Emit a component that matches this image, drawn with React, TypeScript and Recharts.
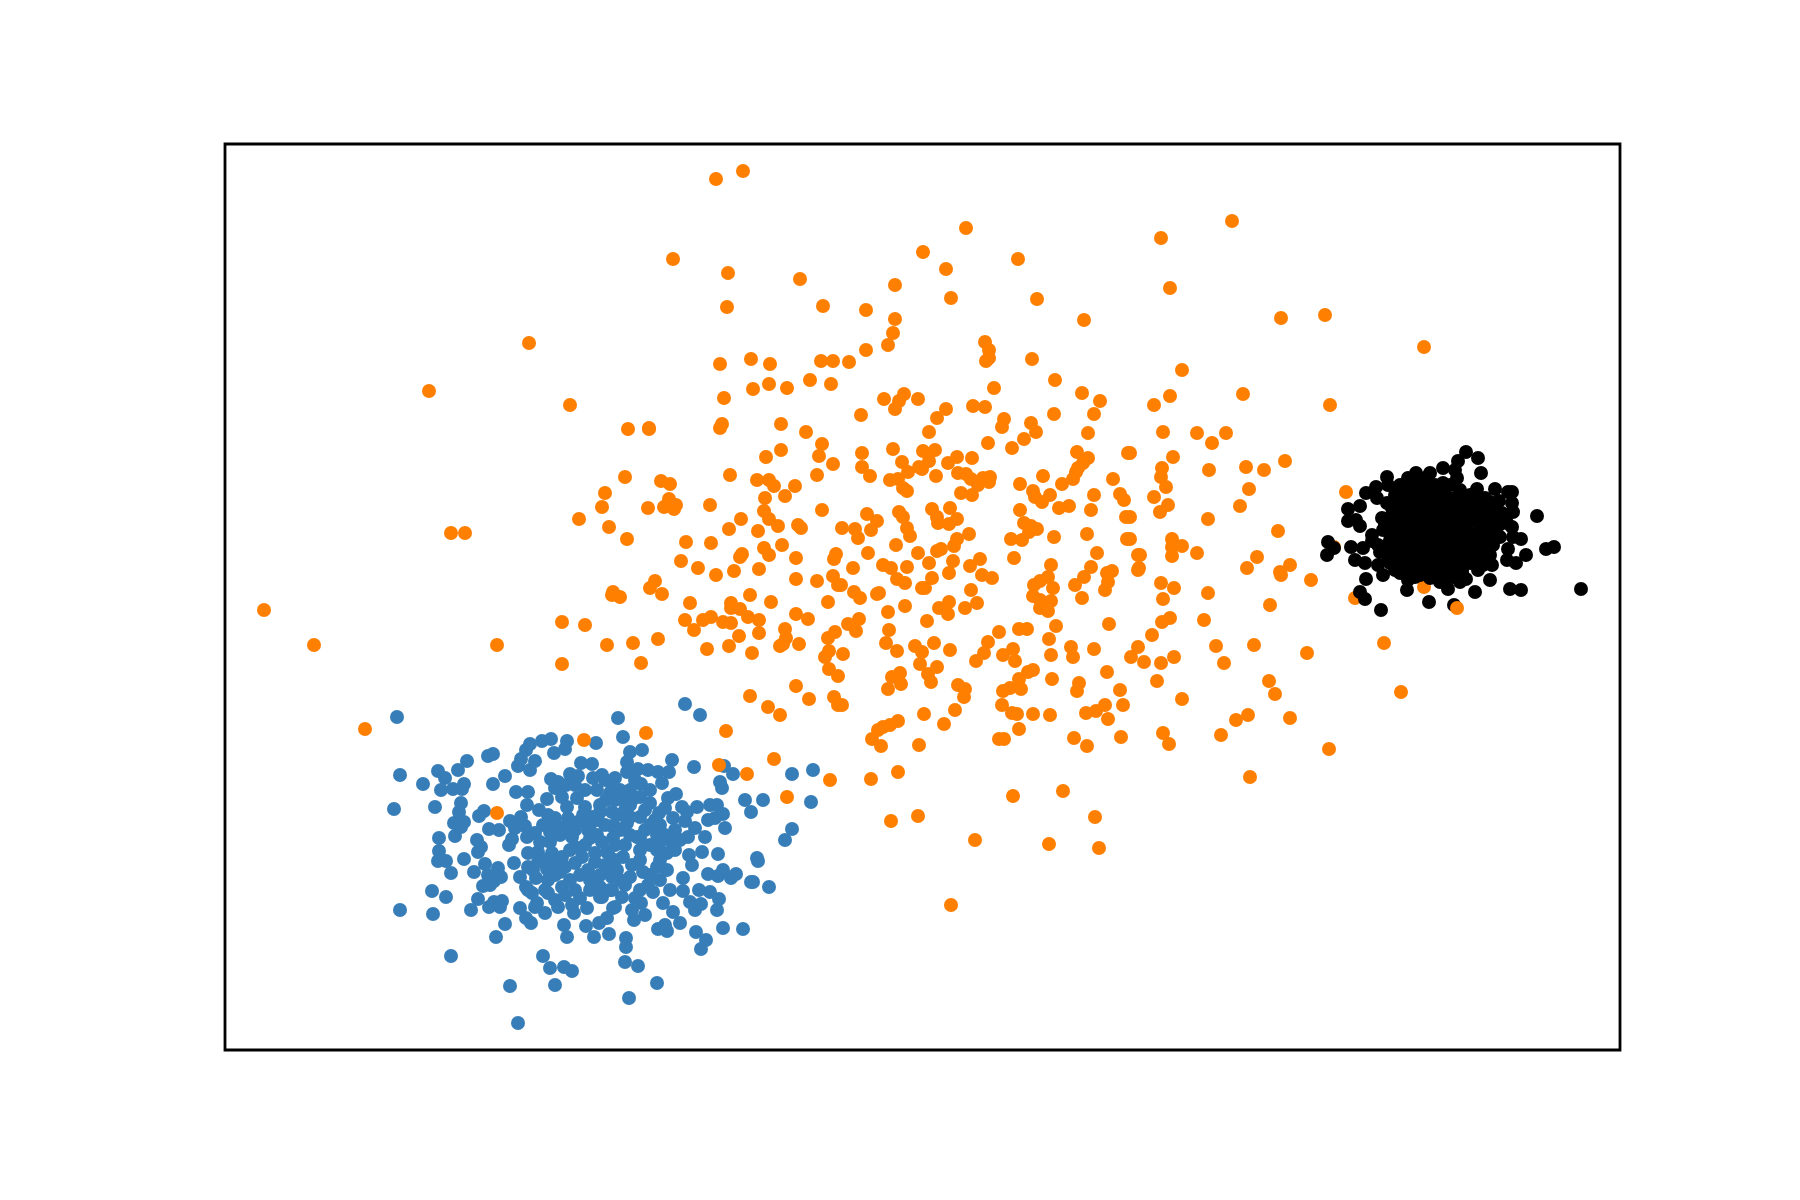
import { ScatterChart, Scatter, XAxis, YAxis, ReferenceArea } from "recharts";

// values, no ticks there so the scale is arbitrary
const xDomain = [225, 1620];
const yDomain = [144, 1050];

const bluePoints = [
  [397,717],[400,775],[423,784],[394,809],[435,807],[438,771],[445,778],[458,770],[467,761],[441,790],[453,789],[462,789],[464,784],
  [461,803],[459,812],[464,822],[454,823],[461,827],[455,836],[439,838],[439,851],[438,861],[446,861],[451,873],[464,859],[432,891],
  [446,897],[400,910],[433,914],[471,910],[478,899],[496,937],[505,924],[451,956],[510,986],[518,1023],[543,956],[550,968],[564,967],
  [572,971],[555,985],[488,756],[493,754],[493,784],[505,776],[518,766],[521,759],[526,750],[530,744],[530,770],[535,761],[542,741],
  [551,739],[554,753],[565,749],[567,741],[596,743],[516,792],[528,792],[527,805],[547,799],[479,816],[484,811],[489,829],[499,830],
  [510,821],[521,817],[525,826],[515,828],[512,839],[509,845],[477,840],[481,847],[478,852],[485,864],[474,872],[498,868],[488,875],
  [501,877],[483,886],[490,885],[494,881],[489,907],[494,902],[502,901],[500,907],[514,863],[520,877],[528,867],[526,887],[532,893],
  [520,908],[526,918],[531,923],[564,925],[567,937],[586,926],[594,937],[599,923],[609,934],[607,918],
  [551,779],[558,782],[555,788],[570,774],[581,763],[592,764],[602,775],[578,776],[593,778],[566,785],[562,797],[577,798],[567,807],
  [585,807],[597,790],[610,793],[539,810],[548,815],[555,818],[553,828],[535,833],[527,837],[528,853],[538,852],[550,842],[565,827],
  [578,822],[592,817],[598,820],[612,812],[612,826],[588,830],[572,837],[575,847],[552,853],[562,857],[575,863],[588,870],[595,853],
  [608,853],[602,842],[547,869],[536,878],[548,880],[562,887],[575,890],[590,890],[602,897],[612,890],[528,890],[545,890],[555,900],
  [537,903],[545,913],[558,907],[572,905],[574,913],[587,908],[612,877],[615,907],[565,867],[582,857],[548,893],[535,907],
  [618,718],[623,737],[685,704],[700,715],[630,752],[642,750],[627,762],[627,772],[638,769],[648,770],[658,772],[669,772],[672,760],
  [694,767],[662,783],[641,784],[724,766],[733,774],[720,782],[722,788],[745,800],[763,800],[751,812],[792,774],[813,770],[811,802],
  [792,829],[785,840],[757,858],[758,861],[718,854],[753,882],[751,882],[769,887],[743,929],[723,928],[696,932],[706,940],[701,949],
  [680,923],[665,925],[658,929],[667,931],[717,910],[719,899],[710,892],[699,890],[695,910],[690,902],[701,904],[683,878],[683,891],
  [673,912],[663,903],[645,915],[634,920],[632,910],[641,903],[626,938],[626,947],[625,962],[638,966],[657,983],[629,998],[613,908],
  [622,897],[708,874],[718,876],[723,870],[731,878],[736,874],[702,852],[689,855],[692,865],[725,828],[710,805],[717,805],[723,814],
  [708,820],[715,818],[697,807],[682,807],[687,812],[676,794],[668,798],[673,818],[685,821],[675,830],[672,842],[695,828],[688,837],
  [705,837],[659,813],[650,803],[640,797],[620,790],[630,817],[640,817],[614,826],[657,835],[650,825],[637,837],[613,838],[607,852],
  [623,857],[640,850],[657,850],[667,853],[617,870],[630,877],[600,887],[643,872],[657,867],[667,870],[640,890],[653,892],[670,890],
  [610,890],[627,823],[623,800],[612,790],
  [556,825],[560,835],[568,818],[575,830],[583,815],[590,825],[597,835],[605,825],[600,805],[606,800],[615,800],[625,810],[632,800],
  [645,810],[655,820],[665,808],[620,830],[630,835],[645,830],[660,842],[650,845],[640,860],[625,845],[615,860],[605,865],[595,862],
  [585,845],[580,875],[570,880],[560,872],[555,862],[545,860],[540,842],[600,875],[610,868],[620,880],[632,865],[650,875],[660,880],
  [648,885],[635,898],[625,885],[590,880],[600,897],[565,895],[580,898],[555,875],[615,845],[590,838],[570,850],[600,812],[635,780],
  [650,790],[630,790],[605,780],[615,778],[585,790],[575,785],[675,850],[680,840],[660,860],[640,838],[550,832],[543,825],[538,862],
  [533,870],[660,825],[665,835],[630,805],[617,815],
];

const orangePoints = [
  [716,179],[743,171],[673,259],[728,273],[800,279],[923,252],[895,285],[727,307],[823,306],[866,310],[895,319],[893,333],[888,345],
  [866,350],[720,364],[751,359],[770,364],[821,361],[833,361],[849,362],[810,380],[831,384],[753,389],[769,384],[787,388],[724,398],
  [884,399],[904,394],[899,401],[895,409],[918,399],[861,415],[781,424],[722,424],[720,428],[649,428],[937,418],[929,432],[806,432],
  [966,228],[946,269],[1018,259],[1161,238],[1232,221],[1170,288],[951,298],[1037,299],[1084,320],[985,342],[989,350],[989,358],
  [986,361],[1032,359],[1055,380],[994,388],[1082,393],[1100,401],[1182,370],[1170,396],[1154,405],[946,409],[973,406],[985,407],
  [1004,419],[1002,427],[1031,423],[1054,414],[1094,414],[1036,432],[1088,433],[1163,432],[1197,433],[1226,433],
  [1281,318],[1325,315],[1424,347],[1243,394],[1330,405],[1212,443],[1173,457],[1130,453],[1162,468],[1161,477],[1166,487],[1154,497],
  [1168,505],[1160,512],[1209,470],[1246,467],[1264,470],[1285,461],[1249,489],[1240,506],[1208,519],[1278,531],[1346,492],[1130,517],
  [1130,539],[1172,539],[1172,547],[1182,546],[1172,556],[1197,553],[1140,555],[1257,557],[1247,568],[1290,565],[1139,568],[1280,572],
  [1334,547],
  [862,453],[862,467],[870,476],[893,449],[902,462],[890,480],[898,479],[903,488],[907,491],[908,472],[919,467],[922,469],[923,451],
  [935,450],[929,461],[936,476],[948,463],[957,457],[972,458],[988,443],[958,473],[966,474],[971,479],[961,493],[972,495],[978,485],
  [983,478],[990,477],[989,482],[1012,448],[1024,439],[1128,453],[1077,452],[1088,458],[1083,463],[1078,468],[1076,472],[1073,479],
  [1062,484],[1043,476],[1020,484],[1033,491],[1035,497],[1042,502],[1050,495],[1113,479],[1120,494],[1124,500],[1094,495],[1091,510],
  [1069,506],[1059,508],[1020,510],[1126,517],[1087,534],[1127,539],[1054,537],[1037,529],[1024,523],[1031,526],[1029,532],[1022,540],
  [1011,539],[969,534],[1014,558],[1097,553],[1138,555],[1138,570],[1051,565],[1091,567],[1084,577],[1075,585],[1112,571],[1107,573],
  [1108,582],[1105,590],[1082,598],[1034,585],[1040,581],[1048,577],[1053,588],[1033,596],[1040,600],[1051,601],[1040,608],[1048,611],
  [1056,626],[1109,624],[1049,639],[1051,655],[1071,647],[1073,657],[1094,649],[1131,657],[1138,647],[1107,672],[1052,679],[1079,683],
  [1077,691],[1120,690],
  [842,528],[855,529],[858,538],[867,514],[877,521],[871,530],[899,512],[903,517],[907,528],[910,536],[896,545],[868,553],[932,509],
  [950,508],[937,517],[938,523],[949,524],[957,519],[957,539],[954,546],[941,549],[937,551],[918,553],[929,563],[953,561],[949,573],
  [970,566],[980,559],[982,575],[992,578],[853,568],[883,565],[891,568],[907,567],[897,579],[905,583],[932,578],[922,588],[925,588],
  [971,590],[977,603],[965,608],[949,602],[939,608],[948,614],[905,606],[888,612],[879,593],[877,594],[854,592],[860,598],[841,585],
  [859,619],[848,624],[856,631],[889,630],[927,621],[886,643],[897,651],[915,646],[922,652],[934,643],[950,650],[920,664],[937,667],
  [928,674],[931,682],[900,673],[892,677],[901,684],[888,689],[843,654],[958,685],[965,689],[964,697],[999,632],[1019,629],[1027,629],
  [988,642],[984,653],[976,661],[1003,655],[1013,649],[1015,661],[1033,670],[1028,672],[1019,679],[1021,689],[1010,688],[1003,691],
  [842,705],[955,710],[924,714],[944,724],[898,721],[890,725],[883,727],[878,730],[872,739],[881,746],[919,745],[898,772],[871,779],
  [1002,705],[1012,713],[1017,714],[1033,714],[1050,715],[1019,729],[999,739],[1004,739],[1086,713],[1096,711],[1105,705],[1108,719],
  [1123,705],[1074,738],[1087,746],[1121,737],[1063,791],[1013,796],
  [1281,575],[1208,593],[1270,605],[1204,620],[1161,583],[1174,588],[1163,599],[1162,622],[1170,618],[1152,635],[1144,662],[1161,663],
  [1174,657],[1216,646],[1254,645],[1224,663],[1157,681],[1182,699],[1269,681],[1275,694],[1248,715],[1236,720],[1290,718],[1221,735],
  [1163,733],[1169,744],[1250,777],[1311,580],[1307,653],[1384,643],[1401,692],[1329,749],[1355,598],[1424,587],
  [628,429],[649,429],[822,444],[781,450],[766,457],[819,456],[833,464],[625,477],[661,481],[670,484],[730,475],[757,480],[769,480],
  [774,486],[795,486],[817,475],[605,493],[602,507],[579,519],[609,527],[627,539],[648,508],[669,499],[664,507],[676,505],[674,509],
  [710,505],[765,498],[785,496],[764,511],[769,519],[778,526],[741,519],[729,529],[758,531],[798,525],[801,528],[822,510],[686,542],
  [711,543],[782,545],[764,548],[769,555],[742,554],[740,557],[796,558],[836,554],[834,559],[681,561],[698,568],[716,575],[734,571],
  [759,569],[796,579],[817,581],[833,576],[838,585],[655,581],[650,588],[662,594],[613,592],[612,595],[620,597],[690,603],[731,603],
  [731,608],[740,609],[750,595],[771,602],[828,602],[562,622],[585,625],[685,620],[711,617],[703,620],[694,630],[723,622],[731,623],
  [748,617],[759,620],[796,614],[808,619],[759,633],[785,629],[739,636],[786,638],[783,644],[780,646],[799,644],[828,638],[835,632],
  [607,645],[633,643],[658,639],[707,649],[729,646],[752,653],[829,651],[825,657],[829,669],[838,676],[641,663],[562,664],[796,686],
  [750,696],[809,699],[834,697],
  [768,707],[780,715],[838,705],[646,733],[726,731],[774,759],[747,774],[719,765],[830,780],[787,797],[584,740],[497,813],
  [891,821],[918,816],[1095,817],[1099,848],[1049,844],[975,840],[951,905],
  [529,343],[429,391],[570,405],[451,533],[465,533],[264,610],[314,645],[497,645],[365,729],
];

const blackPoints = [
  [1466,452],[1478,458],[1458,461],[1481,473],[1443,468],[1455,470],[1457,478],[1387,477],[1388,485],[1376,487],[1366,493],[1360,506],
  [1348,509],[1348,521],[1356,520],[1360,526],[1372,535],[1328,542],[1334,548],[1327,555],[1351,547],[1363,548],[1355,560],[1365,563],
  [1378,565],[1383,575],[1366,579],[1360,592],[1365,599],[1381,610],[1407,590],[1429,602],[1448,589],[1454,605],[1475,592],[1466,579],
  [1490,580],[1510,589],[1521,590],[1581,589],[1526,555],[1546,549],[1554,547],[1537,516],[1521,539],[1513,537],[1508,549],[1507,560],
  [1516,563],[1492,565],[1483,565],[1495,489],[1508,492],[1512,492],[1499,501],[1512,503],[1513,512],[1502,513],[1507,523],[1512,527],
  [1477,489],[1485,498],[1488,512],[1493,527],[1500,537],[1493,545],[1483,557],[1470,563],[1453,577],[1445,578],[1430,578],[1420,575],
  [1408,580],[1400,573],[1390,563],[1380,552],[1378,545],[1383,530],[1382,518],[1387,503],[1377,498],[1400,485],[1408,478],[1416,473],
  [1430,473],[1443,483],[1460,490],
  [1395,495],[1410,490],[1425,488],[1440,492],[1455,498],[1470,500],[1400,505],[1415,503],[1432,502],[1448,508],[1463,512],[1478,510],
  [1392,515],[1408,517],[1423,515],[1438,520],[1453,522],[1468,523],[1483,522],[1398,530],[1413,530],[1428,532],[1443,533],[1458,535],
  [1473,535],[1488,535],[1390,540],[1405,543],[1420,545],[1435,547],[1450,547],[1465,548],[1480,548],[1395,553],[1410,556],[1425,558],
  [1440,560],[1455,560],[1470,555],[1402,565],[1417,568],[1432,567],[1447,568],[1462,570],[1385,525],[1385,550],
  [1403,498],[1418,496],[1433,495],[1448,500],[1462,505],[1475,518],[1392,508],[1407,510],[1425,509],[1440,512],[1455,515],[1470,515],
  [1400,522],[1415,523],[1430,525],[1445,527],[1460,529],[1480,529],[1392,534],[1405,537],[1420,538],[1435,540],[1450,540],[1465,541],
  [1478,541],[1387,546],[1398,548],[1412,550],[1427,552],[1442,553],[1457,553],[1472,560],[1395,560],[1408,562],[1423,563],[1438,573],
  [1455,568],[1415,577],[1390,528],[1420,480],[1435,485],[1450,485],[1412,484],[1425,478],[1470,495],[1485,545],[1490,555],[1478,570],
  [1395,570],[1440,582],[1460,582],[1425,572],[1499,525],[1497,512],[1490,502],[1372,541],
  [1400,493],[1415,493],[1430,493],[1445,493],[1460,493],[1475,493],[1408,501],[1424,501],[1440,501],[1455,501],[1478,501],[1486,501],
  [1398,508],[1415,508],[1433,508],[1456,508],[1470,508],[1485,508],[1403,513],[1418,513],[1432,513],[1447,513],[1462,513],[1490,513],
  [1396,519],[1412,519],[1428,519],[1446,519],[1460,519],[1476,519],[1492,519],[1405,526],[1422,526],[1437,526],[1452,526],[1467,526],
  [1487,526],[1398,533],[1421,533],[1436,533],[1450,533],[1466,533],[1481,533],[1496,533],[1411,539],[1427,539],[1442,539],[1457,539],
  [1472,539],[1486,539],[1397,544],[1413,544],[1428,544],[1443,544],[1458,544],[1472,544],[1492,544],[1404,551],[1419,551],[1434,551],
  [1449,551],[1464,551],[1478,551],[1388,557],[1402,557],[1417,557],[1432,557],[1447,557],[1462,557],[1478,557],[1415,563],[1430,563],
  [1445,563],[1460,563],[1486,563],[1409,573],[1432,573],[1447,573],[1462,573],
];

// this one orange point sits on top of the black cluster
const orangeTopPoints = [[1457,608]];

const toRows = (pts: number[][]) => pts.map(([x, y]) => ({ x, y }));

const Dot = ({ cx, cy, fill }: any) => <circle cx={cx} cy={cy} r={7} fill={fill} />;

const App = () => {
  return (
    <div style={{ position: "absolute", left: 0, top: 0, width: 1800, height: 1200, background: "#fff" }}>
      <ScatterChart width={1800} height={1200} margin={{ top: 144, right: 180, bottom: 150, left: 225 }}>
        <XAxis type="number" dataKey="x" domain={xDomain} hide allowDataOverflow />
        <YAxis type="number" dataKey="y" domain={yDomain} reversed hide allowDataOverflow />
        <ReferenceArea x1={xDomain[0]} x2={xDomain[1]} y1={yDomain[0]} y2={yDomain[1]} fill="none" stroke="#000" strokeWidth={2.8} />
        <Scatter data={toRows(bluePoints)} fill="#377eb8" shape={<Dot />} isAnimationActive={false} />
        <Scatter data={toRows(orangePoints)} fill="#ff7f00" shape={<Dot />} isAnimationActive={false} />
        <Scatter data={toRows(blackPoints)} fill="#000000" shape={<Dot />} isAnimationActive={false} />
        <Scatter data={toRows(orangeTopPoints)} fill="#ff7f00" shape={<Dot />} isAnimationActive={false} />
      </ScatterChart>
    </div>
  );
};

export default App;
